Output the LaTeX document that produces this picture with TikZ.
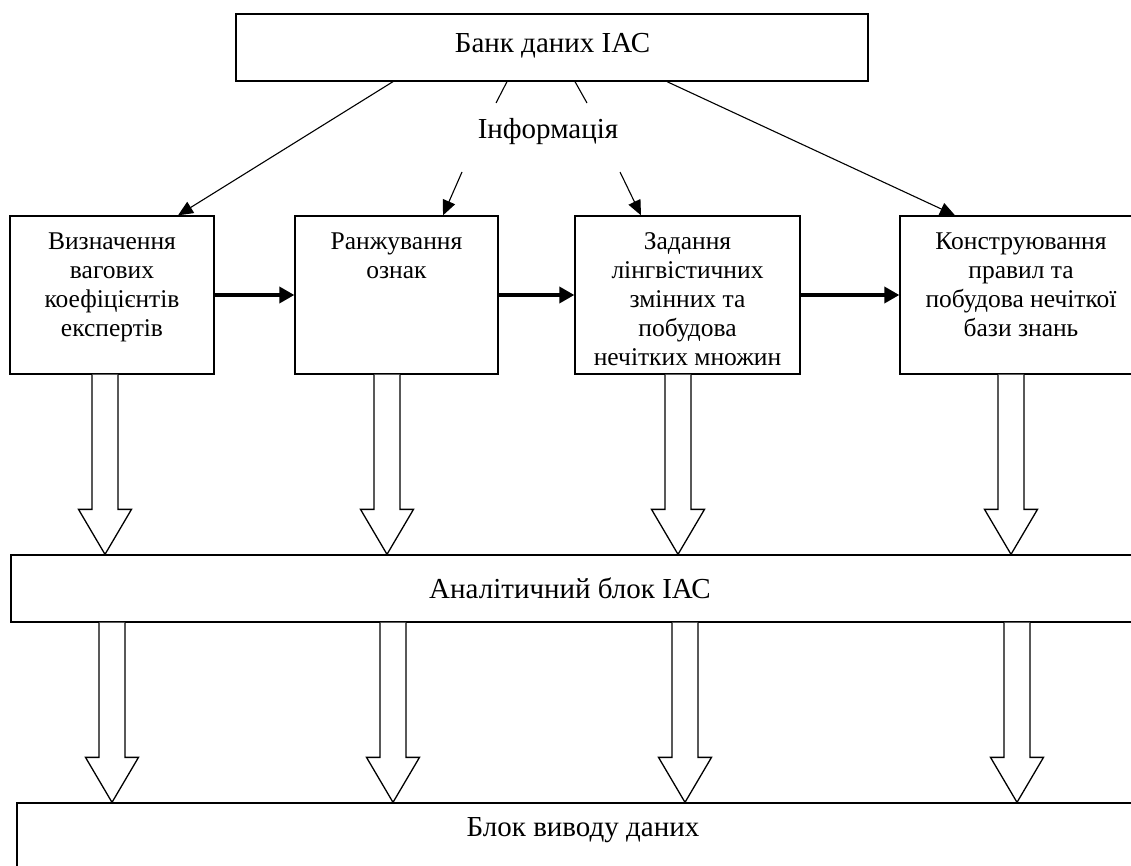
\documentclass[tikz,border=0pt]{standalone}
\usepackage{fontspec}
\setmainfont{Liberation Serif}
\usetikzlibrary{arrows.meta,calc}
\tikzset{
  box/.style={draw=black, line width=1.3pt, fill=white, rectangle, inner sep=0pt},
  txt/.style={font=\fontsize{29}{31}\selectfont, align=center, inner sep=0pt},
  boxtxt/.style={font=\fontsize{25.5}{29}\selectfont, align=center, inner sep=0pt, anchor=north},
  arr/.style={draw=black, line width=1.1pt, -{Triangle[length=15pt,width=13pt]}},
  plainline/.style={draw=black, line width=1.1pt},
  thickarr/.style={draw=black, line width=3.6pt, -{Triangle[length=15pt,width=16pt]}},
  hollow/.style={draw=black, line width=1.3pt, fill=white, line join=miter}
}
\newcommand\hollowarrow[2]{%
  \draw[hollow] let \p1=(#1), \p2=(#2) in
    (\x1-13pt,\y1) -- (\x1-13pt,\y2+45pt) -- (\x1-26.5pt,\y2+45pt) -- (\x1,\y2)
    -- (\x1+26.5pt,\y2+45pt) -- (\x1+13pt,\y2+45pt) -- (\x1+13pt,\y1);}
\begin{document}
\begin{tikzpicture}[x=1pt,y=-1pt]
\useasboundingbox (0,0) rectangle (1131,866);
\clip (0,0) rectangle (1131,866);
% boxes
\node[box, minimum width=632pt, minimum height=67pt] (bank) at (552,47.5) {};
\node[txt] (banktxt) at (552.5,46) {Банк даних ІАС};
\node[txt] (info) at (548,132) {Інформація};
\node[box, minimum width=204pt, minimum height=158pt] (b1) at (112,295) {};
\node[box, minimum width=203pt, minimum height=158pt] (b2) at (396.5,295) {};
\node[box, minimum width=225pt, minimum height=158pt] (b3) at (687.5,295) {};
\node[box, minimum width=242pt, minimum height=158pt] (b4) at (1021,295) {};
\node[boxtxt] (t1) at ($(b1.north)+(0,17)$) {Визначення\\вагових\\коефіцієнтів\\експертів};
\node[boxtxt] (t2) at ($(b2.north)+(0,17)$) {Ранжування\\ознак};
\node[boxtxt] (t3) at ($(b3.north)+(0,17)$) {Задання\\лінгвістичних\\змінних та\\побудова\\нечітких множин};
\node[boxtxt] (t4) at ($(b4.north)+(0,17)$) {Конструювання\\правил та\\побудова нечіткої\\бази знань};
\node[box, minimum width=1134pt, minimum height=67pt] (anal) at (578,588.5) {};
\node[txt] (analtxt) at (570,588) {Аналітичний блок ІАС};
\node[box, minimum width=1128pt, minimum height=97pt] (out) at (581,851.5) {};
\node[txt] (outtxt) at (583,830) {Блок виводу даних};
% information arrows
\coordinate (i1a) at (496,103);
\coordinate (i1b) at (462,172);
\coordinate (i2a) at (587,103);
\coordinate (i2b) at (620,172);
\draw[arr] (bank.south -| 393,0) -- (b1.north -| 178,0);
\draw[plainline] (bank.south -| 507,0) -- (i1a);
\draw[arr] (i1b) -- (b2.north -| 443,0);
\draw[plainline] (bank.south -| 575,0) -- (i2a);
\draw[arr] (i2b) -- (b3.north -| 641,0);
\draw[arr] (bank.south -| 667,0) -- (b4.north -| 955,0);
% thick arrows between boxes
\draw[thickarr] (b1.east) -- (b2.west);
\draw[thickarr] (b2.east) -- (b3.west);
\draw[thickarr] (b3.east) -- (b4.west);
% hollow arrows
\coordinate (u1) at (105,0);
\coordinate (u2) at (387,0);
\coordinate (u3) at (678,0);
\coordinate (u4) at (1011,0);
\coordinate (l1) at (112,0);
\coordinate (l2) at (393,0);
\coordinate (l3) at (685,0);
\coordinate (l4) at (1017,0);
\hollowarrow{b1.south -| u1}{anal.north -| u1}
\hollowarrow{b2.south -| u2}{anal.north -| u2}
\hollowarrow{b3.south -| u3}{anal.north -| u3}
\hollowarrow{b4.south -| u4}{anal.north -| u4}
\hollowarrow{anal.south -| l1}{out.north -| l1}
\hollowarrow{anal.south -| l2}{out.north -| l2}
\hollowarrow{anal.south -| l3}{out.north -| l3}
\hollowarrow{anal.south -| l4}{out.north -| l4}
\end{tikzpicture}
\end{document}
